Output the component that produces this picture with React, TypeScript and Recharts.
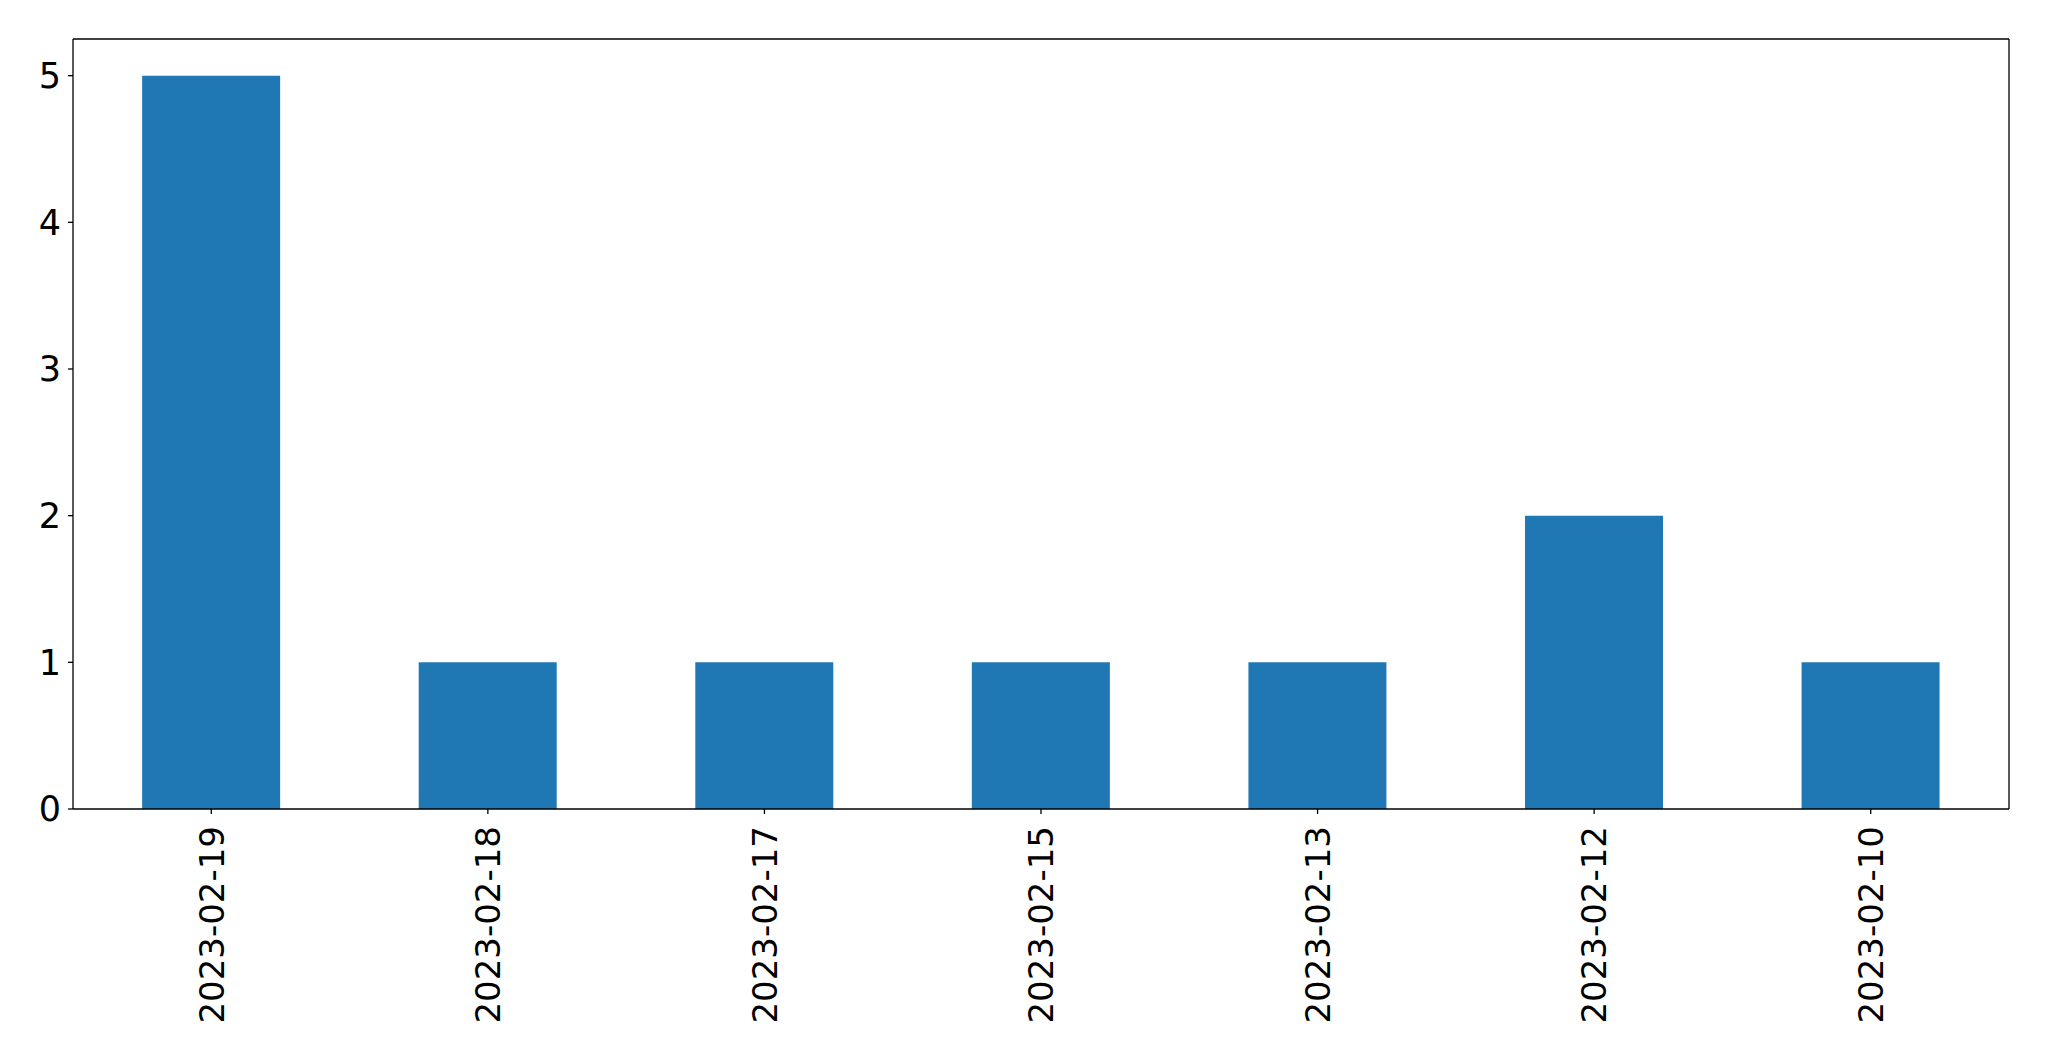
import { Bar, BarChart, XAxis, YAxis } from "recharts";

const dates: string[] = [
  "2023-02-19",
  "2023-02-18",
  "2023-02-17",
  "2023-02-15",
  "2023-02-13",
  "2023-02-12",
  "2023-02-10",
];

const counts: number[] = [5, 1, 1, 1, 1, 2, 1];

const yTicks: number[] = [0, 1, 2, 3, 4, 5];

const data = dates.map((date, i) => ({ date, count: counts[i] }));

const FONT = "'DejaVu Sans', sans-serif";

type TickProps = {
  x?: number;
  y?: number;
  payload?: { value: string };
};

function RotatedTick({ x = 0, y = 0, payload }: TickProps) {
  return (
    <text
      x={x}
      y={y}
      dy="0.36em"
      textAnchor="end"
      transform={`rotate(-90, ${x}, ${y})`}
      fontFamily={FONT}
      fontSize={34}
      fill="#000"
    >
      {payload?.value}
    </text>
  );
}

export default function App() {
  return (
    <div style={{ position: "absolute", left: 0, top: 0, background: "#fff" }}>
      <BarChart
        width={2049}
        height={1061}
        data={data}
        margin={{ top: 38, right: 39, left: 0, bottom: 0 }}
        barCategoryGap="25%"
      >
        <XAxis
          dataKey="date"
          height={252}
          interval={0}
          tickSize={5}
          tickMargin={12}
          stroke="#000"
          strokeWidth={1.3}
          tick={<RotatedTick />}
        />
        <XAxis
          xAxisId="top"
          dataKey="date"
          orientation="top"
          height={1}
          tick={false}
          tickLine={false}
          stroke="#000"
          strokeWidth={1.3}
        />
        <YAxis
          domain={[0, 5.25]}
          ticks={yTicks}
          width={73}
          tickSize={5}
          tickMargin={7}
          stroke="#000"
          strokeWidth={1.3}
          tick={{ fontFamily: FONT, fontSize: 35, fill: "#000" }}
        />
        <YAxis
          yAxisId="right"
          orientation="right"
          domain={[0, 5.25]}
          width={1}
          tick={false}
          tickLine={false}
          stroke="#000"
          strokeWidth={1.3}
        />
        <Bar dataKey="count" fill="#1f77b4" isAnimationActive={false} />
      </BarChart>
    </div>
  );
}
